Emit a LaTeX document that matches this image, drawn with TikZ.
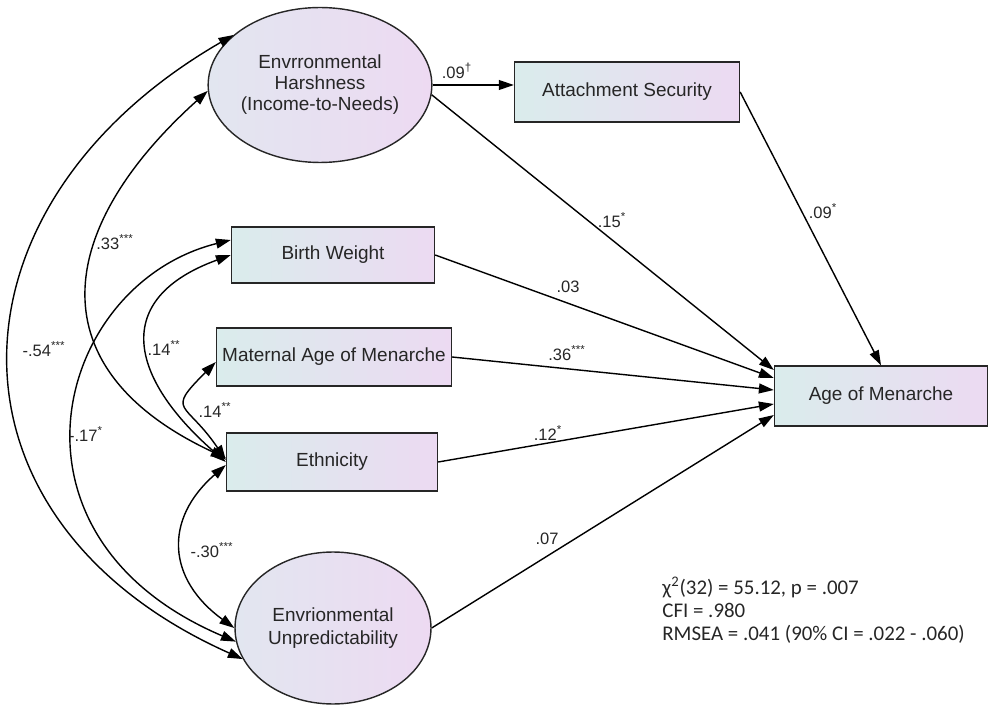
\documentclass[tikz,border=0pt]{standalone}
\usepackage{fontspec}
\setmainfont{Liberation Sans}
\newfontfamily\fitfont{Carlito}
\usetikzlibrary{arrows.meta, shapes.geometric}
\definecolor{boxleft}{RGB}{218,236,236}
\definecolor{boxright}{RGB}{236,218,242}
\definecolor{latleft}{RGB}{226,230,240}
\definecolor{latright}{RGB}{237,218,242}

\begin{document}
\begin{tikzpicture}[x=0.02cm, y=0.02cm]
        \tikzstyle{every node}+=[inner sep=0pt]
        \tikzstyle{obs}=[rectangle, draw=black!85, line width=0.8pt, left color=boxleft, right color=boxright, text=black!85, font=\fontsize{10.8}{13}\selectfont]
        \tikzstyle{latent}=[ellipse, draw=black!85, line width=0.8pt, left color=latleft, right color=latright, text=black!85, align=center]
        \tikzstyle{regr}=[-{Triangle[length=8.5pt,width=5.6pt]}, line width=0.8pt]
        \tikzstyle{cov}=[{Triangle[length=8.5pt,width=5.6pt]}-{Triangle[length=8.5pt,width=5.6pt]}, line width=0.8pt]
        \tikzstyle{coef}=[text=black!85, font=\fontsize{9.4}{11}\selectfont]
        \useasboundingbox (0,0) rectangle (990,-705);
        \node[latent, minimum width=3.72cm, minimum height=3.1cm, font=\fontsize{10.8}{12}\selectfont] (harsh) at (320,-85) {Envrronmental\\Harshness\\(Income-to-Needs)};
        \node[latent, minimum width=3.92cm, minimum height=3.04cm, font=\fontsize{10.8}{13}\selectfont] (unpred) at (333,-628) {Envrionmental\\Unpredictability};
        \node[obs, minimum width=4.5cm, minimum height=1.2cm] (attach) at (627,-92) {Attachment Security};
        \node[obs, minimum width=4.06cm, minimum height=1.12cm] (bw) at (333,-255) {Birth Weight};
        \node[obs, minimum width=4.7cm, minimum height=1.16cm] (mam) at (334,-357) {Maternal Age of Menarche};
        \node[obs, minimum width=4.22cm, minimum height=1.16cm] (eth) at (332,-462) {Ethnicity};
        \node[obs, minimum width=4.26cm, minimum height=1.2cm] (aom) at (881,-396) {Age of Menarche};
        \draw [regr] (harsh.east) -- (harsh.east -| attach.west);
        \draw [regr] (harsh.-5) -- ([yshift=0.52cm]aom.west);
        \draw [regr] (attach.east) -- (aom.north);
        \draw [regr] (bw.east) -- ([yshift=0.36cm]aom.west);
        \draw [regr] (mam.east) -- ([yshift=0.12cm]aom.west);
        \draw [regr] (eth.east) -- ([yshift=-0.16cm]aom.west);
        \draw [regr] (unpred.east) -- ([yshift=-0.38cm]aom.west);
        \draw [cov] (harsh.150) to[out=210, in=156, looseness=1.4] (unpred.199);
        \draw [cov] (harsh.183) to[out=222, in=155, looseness=1.45] ([yshift=0.08cm]eth.west);
        \draw [cov] ([yshift=0.3cm]bw.west) to[out=194, in=157, out looseness=1.15, in looseness=1.72] (unpred.188);
        \draw [cov] (bw.west) to[out=200, in=139, looseness=1.58] (eth.west);
        \draw [cov] ([yshift=-0.1cm]mam.west) to[out=225, in=124, looseness=1.87] ([yshift=0.04cm]eth.west);
        \draw [cov] ([yshift=-0.06cm]eth.west) to[out=221, in=144, looseness=1.3] (unpred.west);
        \node[coef] (c09a) at (457,-71) {.09\textsuperscript{\textdagger}};
        \node[coef] (c15) at (612,-220) {.15\textsuperscript{*}};
        \node[coef] (c09b) at (823,-211) {.09\textsuperscript{*}};
        \node[coef] (c03) at (568,-287) {.03};
        \node[coef] (c36) at (567,-353) {.36\textsuperscript{***}};
        \node[coef] (c12) at (548,-433) {.12\textsuperscript{*}};
        \node[coef] (c07) at (547,-539) {.07};
        \node[coef] (c33) at (115,-242) {.33\textsuperscript{***}};
        \node[coef] (c54) at (44,-349) {-.54\textsuperscript{***}};
        \node[coef] (c14a) at (164,-348) {.14\textsuperscript{**}};
        \node[coef] (c14b) at (215,-410) {.14\textsuperscript{**}};
        \node[coef] (c17) at (86,-434) {-.17\textsuperscript{*}};
        \node[coef] (c30) at (212,-550) {-.30\textsuperscript{***}};
        \node[anchor=north west, align=left, text=black!85, font=\fitfont\fontsize{11.9}{13}\selectfont] (fit) at (662,-577) {χ\textsuperscript{2}(32) = 55.12, p = .007\\CFI = .980\\RMSEA = .041 (90\% CI = .022 - .060)};
\end{tikzpicture}
\end{document}
